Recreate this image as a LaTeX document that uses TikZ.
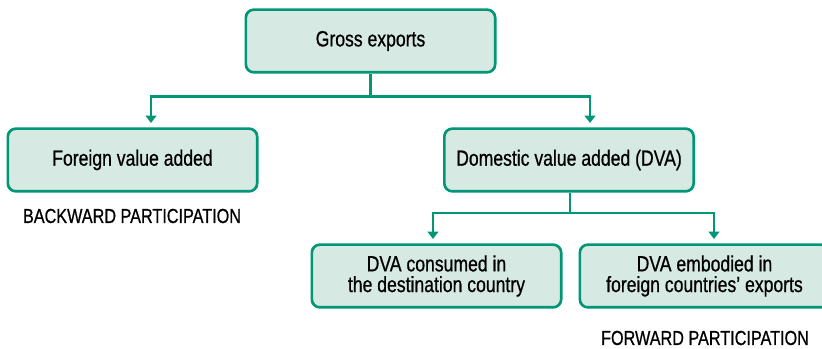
\documentclass[tikz,border=0pt]{standalone}
\usepackage{fontspec}
\setmainfont{Liberation Sans}[FakeStretch=0.8, FakeBold=0.7]
\definecolor{boxgreen}{RGB}{0,150,118}
\definecolor{boxfill}{RGB}{214,234,227}
\usetikzlibrary{arrows.meta, positioning, calc}

\begin{document}
\begin{tikzpicture}[x=0.75pt, y=-0.75pt,
  vabox/.style={draw=boxgreen, fill=boxfill, line width=2pt, rounded corners=6pt,
    minimum width=187pt, minimum height=47pt, align=center, font=\fontsize{16.5}{15.5}\selectfont},
  link/.style={draw=boxgreen, line width=1.9pt},
  arr/.style={link, -{Triangle[width=8pt,length=5.5pt]}},
  partlbl/.style={font=\fontsize{15.2}{17}\selectfont}]
  \useasboundingbox (0,0) rectangle (822,349);

  % Boxes
  \node[vabox] (gross) at (370.5,41) {Gross exports};
  \node[vabox] (fva) at (132.5,160) {Foreign value added};
  \node[vabox] (dva) at (569,160) {Domestic value added (DVA)};
  \node[vabox] (dvacons) at (436.5,276) {DVA consumed in\\the destination country};
  \node[vabox] (dvaemb) at (704.5,276) {DVA embodied in\\foreign countries' exports};

  % Participation labels
  \node[partlbl] (backlbl) at (132,216) {BACKWARD PARTICIPATION};
  \node[partlbl] (fwdlbl) at (705,338) {FORWARD PARTICIPATION};

  % Connectors
  \coordinate (split1) at (370.5,96.5);
  \coordinate (fvain) at (151,123);
  \coordinate (dvain) at (590,123);
  \coordinate (split2) at (570,213);
  \coordinate (consin) at (433,239);
  \coordinate (embin) at (714,239);
  \draw[link] (gross.south) -- (split1);
  \draw[arr] (split1) -| (fvain);
  \draw[arr] (split1) -| (dvain);
  \draw[link] (dva.south -| split2) -- (split2);
  \draw[arr] (split2) -| (consin);
  \draw[arr] (split2) -| (embin);
\end{tikzpicture}
\end{document}
